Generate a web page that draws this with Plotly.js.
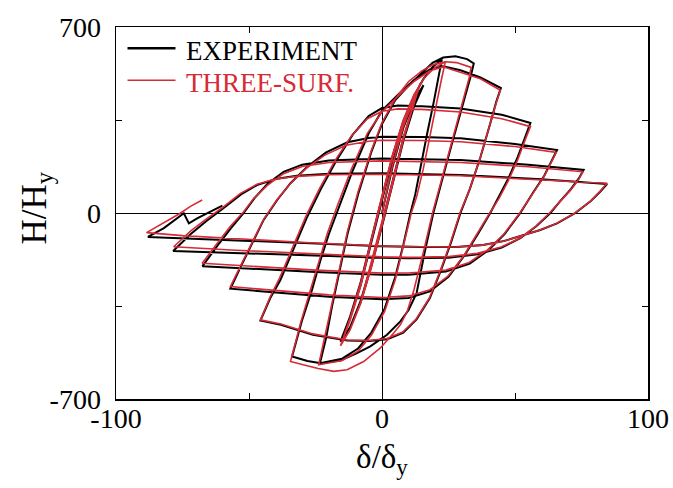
<!DOCTYPE html>
<html>
<head>
<meta charset="utf-8">
<script src="https://cdn.plot.ly/plotly-3.0.1.min.js"></script>
<style>html,body{margin:0;padding:0;background:#fff;}#chart{width:673px;height:488px;}</style>
</head>
<body>
<div id="chart"></div>
<script>
// ---- Experiment (black) : [delta/delta_y, H/H_y] per half-cycle ----
const expElastic = [[0,0],[4,175],[8,320],[12,420],[15.6,481],[12,405],[8,280],[4,115],[0,-40],[-4,-195],[-8,-330],[-12,-430],[-15.6,-484],[-12,-395],[-8,-270],[-4,-110],[0,50],[4,205],[8,335],[12,425],[15.6,481],[12,400],[8,270],[4,105],[0,-50],[-4,-200],[-8,-335],[-12,-432],[-15.6,-484]];
const expC2Load = [[-15.6,-484],[-12,-390],[-8,-260],[-4,-100],[0,60],[4,215],[8,345],[12,440],[15.6,505],[19,550],[22.5,578]];
const expC2Unload = [[22.5,578],[21.5,520],[19.5,420],[17,300],[14.5,170],[12.5,70],[10.7,0],[8,-120],[5,-240],[1,-360],[-4,-450],[-9,-510],[-15,-548],[-23.3,-565]];
const expC3Load = [[-23.3,-565],[-21,-470],[-18.8,-352],[-16,-220],[-13,-80],[-9,70],[-4,230],[0,335],[5,425],[10,480],[14.4,520],[19,565],[23,585],[27.6,590],[32,579],[34.5,563]];
const expC3Unload = [[34.5,563],[33.5,520],[31.5,450],[29.5,380],[26,250],[22.5,120],[19.3,0],[16,-150],[13,-302],[10,-365],[6.9,-408],[1.9,-458],[-4.4,-502],[-9.4,-527],[-15.6,-555],[-23,-565],[-28,-557],[-33.8,-540]];
const expC4Load = [[-33.8,-540],[-30,-402],[-26.3,-289],[-23.1,-177],[-20,-80],[-16,30],[-11,160],[-5,300],[0,385],[6,445],[12,500],[18,540],[23,552],[29.5,537],[37,510],[44.7,470]];
const expC4Unload = [[44.7,470],[43,420],[40.5,330],[37,210],[33,90],[29.5,0],[26,-110],[22,-220],[18,-320],[13,-400],[8,-450],[2,-475],[-5,-482],[-13,-480],[-26,-458],[-38,-421],[-45.7,-405]];
const expC5Load = [[-45.7,-405],[-42,-320],[-38.2,-252],[-33,-130],[-28.1,-14],[-23,90],[-17,200],[-11,295],[-5,365],[0,395],[6,405],[15,402],[29.5,393],[45,370],[55.8,339]];
const expC5Unload = [[55.8,339],[54,290],[51,210],[47.5,130],[44,60],[40.7,0],[36,-80],[31,-160],[25,-240],[18,-295],[10,-320],[0,-325],[-20,-315],[-40,-300],[-57,-285]];
const expC6Load = [[-57,-285],[-53,-200],[-48.2,-101],[-44.5,-26],[-39.4,49],[-34.4,112],[-28,175],[-21,228],[-13,266],[-5,282],[0,287],[15,286],[29.5,281],[50,260],[65.8,237]];
const expC6Unload = [[65.8,237],[64,200],[61,140],[57,80],[52,0],[46,-80],[40,-140],[33,-190],[24,-220],[10,-232],[0,-232],[-25,-222],[-50,-210],[-67.5,-200]];
const expC7Load = [[-67.5,-200],[-62,-125],[-57,-60],[-52,0],[-48,55],[-43,110],[-37,155],[-30,182],[-20,198],[0,205],[29.5,199],[55,182],[75.8,162]];
const expC7Unload = [[75.8,162],[74,130],[71,90],[67,45],[63.3,0],[58,-50],[52,-95],[45,-130],[36,-155],[25,-168],[10,-170],[0,-168],[-30,-158],[-55,-150],[-78.5,-143]];
const expC8Load = [[-78.5,-143],[-72,-80],[-66,-30],[-60,15],[-53,70],[-47,105],[-40,128],[-32,140],[-20,148],[0,150],[29.5,143],[60,127],[84.6,109]];
const expC8Unload = [[84.6,109],[82,80],[78.5,45],[72.7,0],[65.8,-39],[59.5,-64],[53,-85],[46,-105],[38,-120],[28,-128],[15,-128],[0,-125],[-27,-114],[-55,-102],[-75,-95],[-88,-90]];
const expFinal = [[-88,-90],[-82,-57],[-74.5,-1],[-72.6,-39],[-69.5,-20],[-64.5,5],[-60,28]];

// ---- Three-surface model (red) ----
const modElastic = [[0,0],[4,180],[8,325],[12,425],[14.4,488],[12,415],[8,285],[4,120],[0,-35],[-4,-190],[-8,-335],[-12,-440],[-15.6,-500],[-12,-405],[-8,-275],[-4,-105],[0,55],[4,210],[8,340],[12,430],[14.4,488],[12,410],[8,275],[4,110],[0,-45],[-4,-205],[-8,-340],[-12,-440],[-15.6,-500]];
const modC2Load = [[-15.6,-500],[-12,-395],[-8,-262],[-4,-95],[0,65],[4,220],[8,350],[12,445],[16,510],[20,548],[23.8,569]];
const modC2Unload = [[23.8,569],[22.5,510],[20.5,410],[18,290],[15.5,165],[13,60],[11,0],[8,-125],[5,-250],[1,-370],[-4,-460],[-9,-520],[-15,-555],[-23.8,-571]];
const modC3Load = [[-23.8,-571],[-21.5,-470],[-19,-350],[-16,-210],[-13,-70],[-9,80],[-4,235],[0,340],[5,430],[10,495],[15,535],[19,558],[23.8,569],[28,566],[33.5,548]];
const modC3Unload = [[33.5,548],[32.8,510],[31,440],[29,370],[25.5,240],[22,110],[19,0],[15.5,-150],[12,-290],[9.5,-370],[6.9,-421],[4.4,-452],[-0.6,-508],[-6.9,-559],[-13.1,-590],[-18.1,-596],[-24,-585],[-30,-570],[-34.4,-559]];
const modC4Load = [[-34.4,-559],[-30.5,-410],[-27,-295],[-23.5,-175],[-20.5,-75],[-16.5,35],[-11.5,165],[-5.5,300],[0,380],[6,440],[12,495],[18,535],[23,550],[30,528],[37,505],[44.5,462]];
const modC4Unload = [[44.5,462],[42.8,410],[40.2,320],[36.7,200],[32.8,85],[29.3,0],[25.8,-110],[21.8,-220],[17.8,-320],[12.8,-400],[7.8,-448],[1.8,-472],[-5,-480],[-13,-478],[-26,-455],[-38,-418],[-45.7,-402]];
const modC5Load = [[-45.7,-402],[-42,-315],[-38.5,-245],[-33.5,-125],[-28.5,-10],[-23.5,92],[-17.5,200],[-11.5,290],[-5.5,355],[0,383],[6,392],[15,390],[29.5,380],[45,355],[55.8,325]];
const modC5Unload = [[55.8,325],[54,280],[51,200],[47.5,122],[44,55],[40.5,0],[35.8,-80],[30.8,-160],[24.8,-238],[17.8,-290],[10,-312],[0,-318],[-20,-308],[-40,-292],[-57,-277]];
const modC6Load = [[-57,-277],[-53,-195],[-48.2,-101],[-44.5,-24],[-39.5,50],[-34.5,110],[-28.5,168],[-21.5,218],[-13.5,255],[-5,270],[0,274],[15,273],[29.5,268],[50,250],[65.5,228]];
const modC6Unload = [[65.5,228],[63.8,192],[60.8,135],[56.8,75],[51.8,0],[45.8,-80],[39.8,-138],[32.8,-186],[24,-215],[10,-226],[0,-226],[-25,-215],[-50,-200],[-67.6,-189]];
const modC7Load = [[-67.6,-189],[-62,-115],[-57,-50],[-52,5],[-48.2,55],[-43,105],[-37,148],[-30,175],[-20,190],[0,196],[29.5,190],[55,174],[75.5,155]];
const modC7Unload = [[75.5,155],[73.8,124],[70.8,85],[66.8,42],[63,0],[57.8,-50],[51.8,-95],[44.8,-128],[35.8,-152],[25,-164],[10,-167],[0,-165],[-30,-152],[-55,-140],[-78.3,-127]];
const modC8Load = [[-78.3,-127],[-72,-68],[-66,-22],[-60,20],[-53.2,74],[-47,108],[-40,128],[-32,138],[-20,144],[0,146],[29.5,140],[60,126],[84.6,112]];
const modC8Unload = [[84.6,112],[82,82],[78.3,44],[72.5,0],[65.5,-40],[59.2,-65],[52.8,-86],[45.8,-106],[37.8,-121],[27.8,-128],[15,-127],[0,-124],[-27,-112],[-55,-97],[-75,-85],[-88.5,-74]];
const modFinal = [[-88.5,-74],[-82,-38],[-76,-2],[-72,25],[-67.6,49]];

// ---- axis ticks / labels ----
const xTickVals = [-100,0,100];
const yTickVals = [-700,0,700];
const seriesNames = ['EXPERIMENT','THREE-SURF.'];
const xTitle = 'δ/δ<sub>y</sub>';
const yTitle = 'H/H<sub>y</sub>';

const expPath = [expElastic,expC2Load,expC2Unload,expC3Load,expC3Unload,expC4Load,expC4Unload,expC5Load,expC5Unload,expC6Load,expC6Unload,expC7Load,expC7Unload,expC8Load,expC8Unload,expFinal];
const modPath = [modElastic,modC2Load,modC2Unload,modC3Load,modC3Unload,modC4Load,modC4Unload,modC5Load,modC5Unload,modC6Load,modC6Unload,modC7Load,modC7Unload,modC8Load,modC8Unload,modFinal];

function flatten(segs){
  const x=[], y=[];
  segs.forEach(s => s.forEach(p => { x.push(p[0]); y.push(p[1]); }));
  return {x, y};
}
const e = flatten(expPath), m = flatten(modPath);
const RED = '#d62a36';
const FONT = 'Liberation Serif, Times New Roman, serif';

const traces = [
  {x:e.x, y:e.y, mode:'lines', name:seriesNames[0], line:{color:'#000', width:2}},
  {x:m.x, y:m.y, mode:'lines', name:seriesNames[1], line:{color:RED, width:1.6}}
];

// plot area in pixels
const W=673, H=488, L=115.5, R=25.3, T=26.7, B=88.7;
const pw=W-L-R, ph=H-T-B;
const px = v => (v-L)/pw;
const py = v => (H-B-v)/ph;

const axisBase = {
  ticks:'inside', ticklen:6, tickwidth:1, tickcolor:'#000',
  showline:true, linecolor:'#000', linewidth:1.5, mirror:'ticks',
  zeroline:true, zerolinecolor:'#000', zerolinewidth:1,
  showgrid:false, tickfont:{family:FONT, size:28, color:'#000'}
};

const layout = {
  width:W, height:H,
  margin:{l:L, r:R, t:T, b:B},
  paper_bgcolor:'#fff', plot_bgcolor:'#fff',
  font:{family:FONT, color:'#000'},
  showlegend:false,
  xaxis:Object.assign({}, axisBase, {range:[-100,100], tickvals:xTickVals, ticktext:xTickVals.map(String),
          ticklabelstandoff:-6,
          minor:{dtick:50, tick0:0, ticks:'inside', ticklen:6, tickwidth:1, tickcolor:'#000', showgrid:false},
          title:{text:xTitle, font:{family:FONT, size:33, color:'#000'}, standoff:12}}),
  yaxis:Object.assign({}, axisBase, {range:[-700,700], tickvals:yTickVals, ticktext:yTickVals.map(String),
          ticklabelstandoff:8,
          minor:{dtick:350, tick0:0, ticks:'inside', ticklen:6, tickwidth:1, tickcolor:'#000', showgrid:false}}),
  shapes:[
    {type:'line', xref:'paper', yref:'paper', x0:px(127), x1:px(175), y0:py(48), y1:py(48), line:{color:'#000', width:2.5}},
    {type:'line', xref:'paper', yref:'paper', x0:px(127), x1:px(175), y0:py(80), y1:py(80), line:{color:RED, width:1.6}}
  ],
  annotations:[
    {xref:'paper', yref:'paper', x:px(184), y:py(51), xanchor:'left', yanchor:'middle', showarrow:false,
     text:seriesNames[0], font:{family:FONT, size:27, color:'#000'}},
    {xref:'paper', yref:'paper', x:px(184), y:py(83), xanchor:'left', yanchor:'middle', showarrow:false,
     text:seriesNames[1], font:{family:FONT, size:27, color:RED}},
    {xref:'paper', yref:'paper', x:px(35), y:py(208), xanchor:'center', yanchor:'middle', showarrow:false,
     textangle:-90, text:yTitle, font:{family:FONT, size:35, color:'#000'}}
  ]
};

Plotly.newPlot('chart', traces, layout, {displayModeBar:false, staticPlot:true});
</script>
</body>
</html>
